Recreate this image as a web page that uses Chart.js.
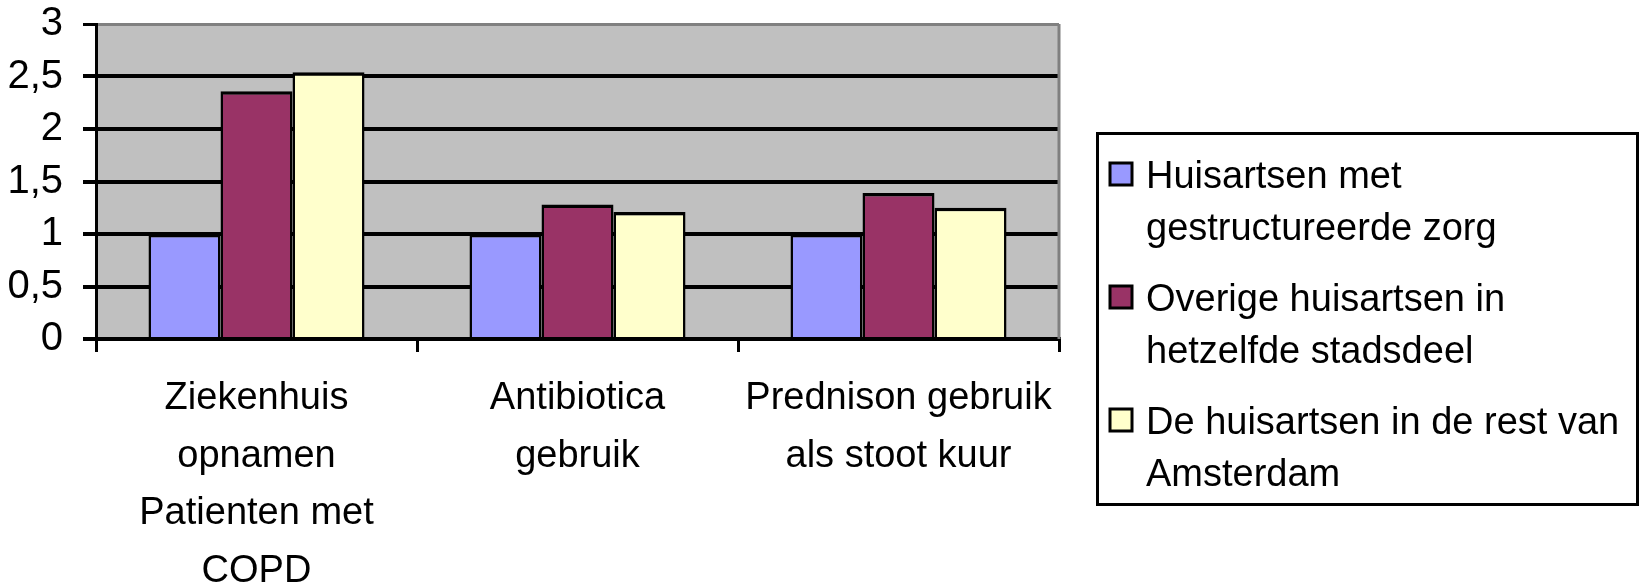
<!DOCTYPE html>
<html><head><meta charset="utf-8">
<script src="https://cdn.jsdelivr.net/npm/chart.js@4/dist/chart.umd.min.js"></script>
<style>html,body{margin:0;padding:0;background:#fff;overflow:hidden}#wrap{width:1644px;height:586px;position:relative}</style>
</head><body><div id="wrap"><canvas id="c" width="1644" height="586"></canvas></div>
<script>
const categories = [["Ziekenhuis","opnamen","Patienten met","COPD"],["Antibiotica","gebruik"],["Prednison gebruik","als stoot kuur"]];
const seriesNames = [["Huisartsen met","gestructureerde zorg"],["Overige huisartsen in","hetzelfde stadsdeel"],["De huisartsen in de rest van","Amsterdam"]];
const seriesGestructureerd = [1, 1, 1];
const seriesOverigStadsdeel = [2.36, 1.28, 1.39];
const seriesRestAmsterdam = [2.54, 1.21, 1.25];
const yTickLabels = ["0","0,5","1","1,5","2","2,5","3"];
const seriesColors = ["#9999FF","#993366","#FFFFCC"];

const FONT = '"Liberation Sans", Arial, sans-serif';

const plotBg = {
  id:'plotBg',
  beforeDraw(chart){
    const a = chart.chartArea, ctx = chart.ctx;
    ctx.save(); ctx.fillStyle = '#C0C0C0';
    ctx.fillRect(a.left, a.top, a.right - a.left, a.bottom - a.top);
    ctx.restore();
  },
  afterDatasetsDraw(chart){
    const a = chart.chartArea, ctx = chart.ctx;
    ctx.save(); ctx.strokeStyle = '#808080'; ctx.lineWidth = 3;
    ctx.beginPath(); ctx.moveTo(a.right, a.top); ctx.lineTo(a.right, a.bottom); ctx.stroke();
    ctx.restore();
  }
};

const boxLegend = {
  id:'boxLegend',
  afterDraw(chart){
    const ctx = chart.ctx;
    ctx.save();
    ctx.lineWidth = 3; ctx.strokeStyle = '#000';
    ctx.strokeRect(1097.5, 133.5, 540, 371);
    ctx.font = '38px ' + FONT;
    ctx.textBaseline = 'alphabetic'; ctx.textAlign = 'left';
    const baselines = [[188,240],[311,363],[434,486]];
    chart.data.datasets.forEach((ds, i) => {
      const b = baselines[i];
      ctx.fillStyle = ds.backgroundColor;
      ctx.fillRect(1110, b[0] - 25, 22, 22);
      ctx.lineWidth = 3; ctx.strokeStyle = '#000';
      ctx.strokeRect(1110, b[0] - 25, 22, 22);
      ctx.fillStyle = '#000';
      seriesNames[i].forEach((line, j) => ctx.fillText(line, 1146, b[j]));
    });
    ctx.restore();
  }
};

const seriesValues = [seriesGestructureerd, seriesOverigStadsdeel, seriesRestAmsterdam];

new Chart(document.getElementById('c'), {
  type: 'bar',
  data: {
    labels: categories,
    datasets: seriesValues.map((vals, i) => ({
      label: seriesNames[i].join(' '),
      data: vals,
      backgroundColor: seriesColors[i],
      borderColor: '#000',
      borderWidth: {top: 3.5, left: 2.5, right: 2.5, bottom: 0},
      borderSkipped: 'bottom',
      categoryPercentage: 0.673,
      barPercentage: 1.0
    }))
  },
  options: {
    responsive: false,
    animation: false,
    devicePixelRatio: 1,
    layout: {padding: {top: 24, right: 585, left: 0, bottom: 0}},
    plugins: {legend: {display: false}, tooltip: {enabled: false}},
    scales: {
      x: {
        afterFit(s){ s.height = 247; s.paddingLeft = 0; s.paddingRight = 0; },
        grid: {display: true, drawOnChartArea: false, offset: true, color: '#000', lineWidth: 3, tickLength: 13, tickColor: '#000'},
        border: {display: true, color: '#000', width: 4},
        ticks: {color: '#000', font: {family: FONT, size: 38, lineHeight: 1.513}, padding: 18, autoSkip: false, maxRotation: 0, minRotation: 0}
      },
      y: {
        min: 0, max: 3,
        afterFit(s){ s.width = 96; s.paddingTop = 0; s.paddingBottom = 0; },
        grid: {
          color: c => (c.tick && c.tick.value === 3) ? '#808080' : '#000',
          tickColor: '#000',
          lineWidth: c => (c.tick && c.tick.value === 3) ? 3 : 4, tickLength: 13
        },
        border: {display: true, color: '#000', width: 3},
        ticks: {
          stepSize: 0.5, color: '#000', padding: 20,
          font: {family: FONT, size: 40},
          callback: (v, idx) => yTickLabels[idx]
        }
      }
    }
  },
  plugins: [plotBg, boxLegend]
});
</script></body></html>
